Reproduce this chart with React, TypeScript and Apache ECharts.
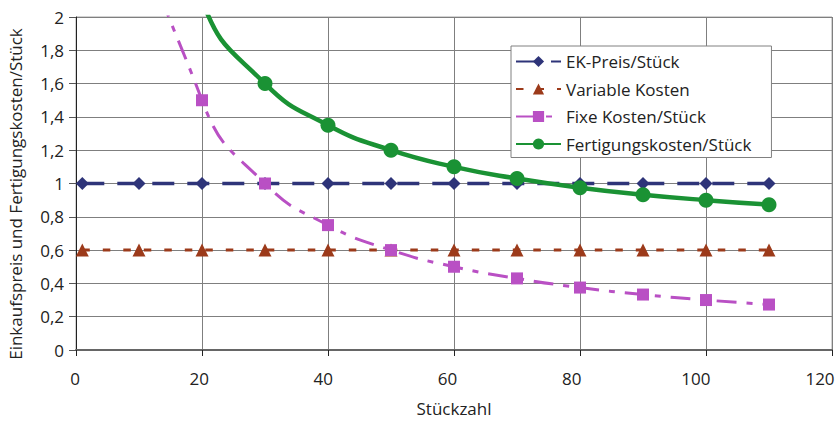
import React, { useEffect, useRef } from "react";
import * as echarts from "echarts";

const stueckzahl = [1, 10, 20, 30, 40, 50, 60, 70, 80, 90, 100, 110];
const ekPreis = [1, 1, 1, 1, 1, 1, 1, 1, 1, 1, 1, 1];
const variableKosten = [0.6, 0.6, 0.6, 0.6, 0.6, 0.6, 0.6, 0.6, 0.6, 0.6, 0.6, 0.6];
const fixeKosten = [30, 3, 1.5, 1.0, 0.75, 0.6, 0.5, 0.43, 0.375, 0.333, 0.3, 0.273];
const fertigungsKosten = [30.6, 3.6, 2.1, 1.6, 1.35, 1.2, 1.1, 1.03, 0.975, 0.933, 0.9, 0.873];
const xTicks = [0, 20, 40, 60, 80, 100, 120];

const seriesNames = [
  "EK-Preis/Stück",
  "Variable Kosten",
  "Fixe Kosten/Stück",
  "Fertigungskosten/Stück",
];
const xTitle = "Stückzahl";
const yTitle = "Einkaufspreis und Fertigungskosten/Stück";

const FONT = "'Open Sans', 'Noto Sans', sans-serif";
const FS = 17;

const pairs = (ys: number[]) => stueckzahl.map((x, i) => [x, ys[i]]);

// per-label leftward shift (the reference labels sit slightly left of their ticks)
const xLabelRich: Record<string, any> = {};
xTicks.forEach((v) => {
  const shift = 1 + v * 0.0917;
  xLabelRich["t" + v] = {
    fontSize: FS,
    color: "#222",
    fontFamily: FONT,
    padding: [0, 2 * shift, 0, 0],
  };
});

export default function App() {
  const ref = useRef<HTMLDivElement>(null);
  useEffect(() => {
    if (!ref.current) return;
    const chart = echarts.init(ref.current, undefined, { renderer: "svg" });
    chart.setOption({
      animation: false,
      backgroundColor: "#ffffff",
      textStyle: { fontFamily: FONT },
      grid: {
        left: 76,
        right: 5,
        top: 17,
        bottom: 71,
        show: true,
        borderColor: "#a6a6a6",
        borderWidth: 1,
        outerBoundsMode: "none",
        containLabel: false,
      },
      xAxis: {
        type: "value",
        min: 0,
        max: 120,
        interval: 20,
        name: xTitle,
        nameLocation: "middle",
        nameGap: 50,
        nameTextStyle: { fontSize: FS, color: "#222", fontFamily: FONT },
        axisLine: { show: true, lineStyle: { color: "#666", width: 2 } },
        axisTick: { show: true, length: 6, lineStyle: { color: "#222" } },
        axisLabel: {
          fontSize: FS,
          color: "#222",
          margin: 20,
          fontFamily: FONT,
          formatter: (v: number) => `{t${v}|${v}}`,
          rich: xLabelRich,
        },
        splitLine: { show: true, lineStyle: { color: "#7f7f7f", width: 1 } },
      },
      yAxis: {
        type: "value",
        min: 0,
        max: 2,
        interval: 0.2,
        axisLine: { show: true, lineStyle: { color: "#222", width: 1 } },
        axisTick: { show: true, length: 7, lineStyle: { color: "#555" } },
        axisLabel: {
          fontSize: FS,
          color: "#222",
          margin: 12,
          fontFamily: FONT,
          formatter: (v: number) => String(Math.round(v * 10) / 10).replace(".", ","),
        },
        splitLine: { show: true, lineStyle: { color: "#7f7f7f", width: 1 } },
      },
      legend: {
        orient: "vertical",
        left: 511,
        top: 46,
        padding: [7, 20, 5, 4],
        itemWidth: 45,
        itemHeight: 14,
        itemGap: 10.5,
        backgroundColor: "#ffffff",
        borderColor: "#808080",
        borderWidth: 1,
        textStyle: { fontSize: FS, color: "#222", fontFamily: FONT },
        data: seriesNames,
      },
      graphic: [
        {
          type: "text",
          x: 15,
          y: 194,
          rotation: Math.PI / 2,
          style: {
            text: yTitle,
            fontSize: 17,
            fill: "#222",
            fontFamily: FONT,
            align: "center",
            verticalAlign: "middle",
          },
        },
      ],
      series: [
        {
          name: seriesNames[0],
          type: "line",
          data: pairs(ekPreis),
          symbol: "diamond",
          symbolSize: 13,
          itemStyle: { color: "#2e3479" },
          lineStyle: { color: "#2e3479", width: 3.5, type: [22, 13] },
          z: 3,
        },
        {
          name: seriesNames[1],
          type: "line",
          data: pairs(variableKosten),
          symbol: "triangle",
          symbolSize: 13,
          itemStyle: { color: "#9c3a1a" },
          lineStyle: { color: "#9c3a1a", width: 3, type: [7.5, 13] },
          z: 3,
        },
        {
          name: seriesNames[2],
          type: "line",
          data: pairs(fixeKosten),
          smooth: 0.5,
          symbol: "rect",
          symbolSize: 12,
          clip: true,
          itemStyle: { color: "#b950c4" },
          lineStyle: { color: "#b950c4", width: 3, type: [20, 10, 6, 10] },
          z: 4,
        },
        {
          name: seriesNames[3],
          type: "line",
          data: pairs(fertigungsKosten),
          smooth: 0.5,
          symbol: "circle",
          symbolSize: 15,
          clip: true,
          itemStyle: { color: "#1a9234" },
          lineStyle: { color: "#1a9234", width: 4.5 },
          z: 5,
        },
      ],
    });
    return () => chart.dispose();
  }, []);
  return <div ref={ref} style={{ width: 837, height: 421, position: "absolute", left: 0, top: 0 }} />;
}
